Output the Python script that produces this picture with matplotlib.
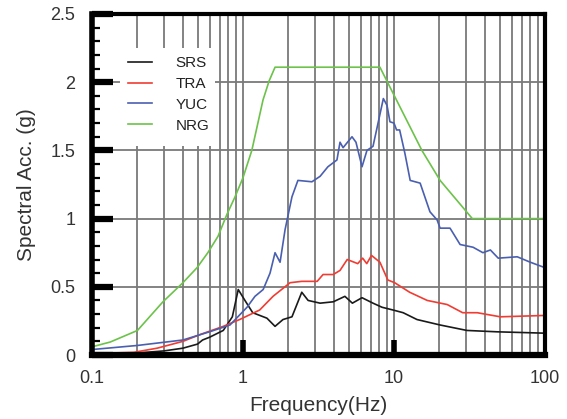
import matplotlib
matplotlib.use("Agg")
import matplotlib.pyplot as plt
from matplotlib.patches import Rectangle
from matplotlib.ticker import FixedLocator, NullFormatter
import numpy as np

plt.rcParams['font.family'] = ['Liberation Sans', 'DejaVu Sans']

# ---- data ----
srs_f = [0.1, 0.2, 0.3, 0.4, 0.5, 0.54, 0.6, 0.74, 0.85, 0.93, 1.03, 1.16, 1.44, 1.63, 1.84,
         2.11, 2.45, 2.7, 3.24, 3.96, 4.73, 5.3, 6.14, 7.26, 8.33, 9.84, 11.5, 14.2,
         20.2, 30.4, 48.1, 100]
srs_a = [0.01, 0.015, 0.03, 0.05, 0.08, 0.11, 0.13, 0.18, 0.28, 0.48, 0.40, 0.31, 0.27, 0.21, 0.26,
         0.28, 0.46, 0.40, 0.38, 0.39, 0.43, 0.38, 0.42, 0.38, 0.35, 0.33, 0.31, 0.26,
         0.22, 0.18, 0.17, 0.16]

tra_f = [0.1, 0.19, 0.27, 0.40, 0.52, 0.74, 0.95, 1.29, 1.58, 2.05, 2.45, 3.1, 3.39, 3.96, 4.39,
         4.9, 5.75, 6.2, 6.6, 7.1, 8.07, 9.1, 10.1, 12.7, 16.6, 22.5, 28.5, 35.6, 50.6, 100]
tra_a = [0.01, 0.02, 0.05, 0.10, 0.15, 0.21, 0.26, 0.33, 0.43, 0.53, 0.54, 0.54, 0.59, 0.59, 0.62,
         0.70, 0.67, 0.71, 0.67, 0.73, 0.68, 0.55, 0.53, 0.46, 0.40, 0.37, 0.31, 0.31, 0.28, 0.29]

yuc_f = [0.1, 0.2, 0.4, 0.6, 0.82, 1.063, 1.2, 1.36, 1.51, 1.63, 1.76, 1.9, 2.11, 2.31, 2.86,
         3.24, 3.65, 4.19, 4.39, 4.6, 5.27, 5.6, 6.14, 6.62, 7.26, 7.84, 8.5, 8.99, 9.4, 10.0,
         10.4, 10.9, 11.8, 12.8, 14.9, 17.3, 19.3, 20.2, 23.5, 27.4, 33.4, 38.8, 43.5, 49,
         65.5, 80, 100]
yuc_a = [0.04, 0.07, 0.11, 0.17, 0.22, 0.35, 0.43, 0.48, 0.60, 0.75, 0.68, 0.92, 1.16, 1.28, 1.27,
         1.31, 1.38, 1.43, 1.56, 1.52, 1.60, 1.56, 1.38, 1.50, 1.53, 1.70, 1.88, 1.83, 1.71, 1.70,
         1.65, 1.65, 1.48, 1.28, 1.26, 1.05, 0.99, 0.93, 0.93, 0.81, 0.79, 0.75, 0.77, 0.71,
         0.72, 0.68, 0.64]

nrg_f = [0.1, 0.132, 0.2, 0.295, 0.4, 0.496, 0.585, 0.683, 0.782, 0.886, 1.0, 1.144, 1.357,
         1.49, 1.63, 8.07, 15.3, 20.2, 33.0, 100]
nrg_a = [0.06, 0.095, 0.18, 0.39, 0.53, 0.64, 0.75, 0.87, 1.03, 1.16, 1.30, 1.50, 1.87,
         2.01, 2.11, 2.11, 1.50, 1.28, 1.00, 1.00]

names = ['SRS', 'TRA', 'YUC', 'NRG']
colors = ['#1a1a1a', '#f03c32', '#4a5fb0', '#6cc24a']

y_ticks = [0, 0.5, 1, 1.5, 2, 2.5]
y_tick_labels = ['0', '0.5', '1', '1.5', '2', '2.5']
x_ticks = [0.1, 1, 10, 100]
x_tick_labels = ['0.1', '1', '10', '100']

fig = plt.figure(figsize=(5.67, 4.19), dpi=100)
ax = fig.add_axes([92/567, 1-355/419, (545-92)/567, (355-14)/419])

series = [(srs_f, srs_a), (tra_f, tra_a), (yuc_f, yuc_a), (nrg_f, nrg_a)]
for (f, a), n, c in zip(series, names, colors):
    ax.plot(f, a, color=c, lw=1.2, label=n, zorder=3)

ax.set_xscale('log')
ax.set_xlim(0.1, 100)
ax.set_ylim(0, 2.5)

# grid: vertical at every log minor/major, horizontal at 0.5 .. 2
gcol = '#7a7a7a'
for dec in [0.1, 1, 10]:
    for k in range(1, 10):
        xv = dec * k
        if 0.1 < xv < 100:
            ax.axvline(xv, color=gcol, lw=1.3, zorder=1)
for yv in [0.5, 1, 1.5, 2]:
    ax.axhline(yv, color=gcol, lw=1.3, zorder=1)

# legend background box covering grid
ax.add_patch(Rectangle(((120-92)/453, (355-146)/341), (215-120)/453, (146-48)/341,
                       transform=ax.transAxes, facecolor='white', edgecolor='none', zorder=2))

# ticks
ax.xaxis.set_major_locator(FixedLocator(x_ticks))
ax.xaxis.set_minor_locator(FixedLocator([]))
ax.set_xticklabels(x_tick_labels)
ax.yaxis.set_major_locator(FixedLocator(y_ticks))
ax.yaxis.set_minor_locator(FixedLocator(list(np.arange(0.1, 2.5, 0.1))))
ax.yaxis.set_minor_formatter(NullFormatter())
ax.set_yticklabels(y_tick_labels)

ax.tick_params(axis='y', which='major', direction='in', length=15, width=4.5,
               labelsize=13, pad=12, labelcolor='#333333', color='black')
ax.tick_params(axis='y', which='minor', direction='in', length=6, width=1.6, color='black')
ax.tick_params(axis='x', which='major', direction='in', length=11, width=4, bottom=True, top=False,
               labelsize=13, pad=11, labelcolor='#333333', color='black')
ax.tick_params(axis='x', which='minor', bottom=False, top=False)

fig.canvas.draw()
xt = ax.xaxis.get_major_ticks()
for i in (0, len(xt) - 1):
    xt[i].tick1line.set_visible(False)

for side, lw in [('left', 4), ('bottom', 4.5), ('top', 3), ('right', 3)]:
    ax.spines[side].set_linewidth(lw)
    ax.spines[side].set_color('black')
    ax.spines[side].set_zorder(5)

ax.set_xlabel('Frequency(Hz)', fontsize=15, color='#333333', labelpad=6)
ax.set_ylabel('Spectral Acc. (g)', fontsize=15, color='#333333', labelpad=10)

leg = ax.legend(loc='upper left', bbox_to_anchor=((128-92)/453, (355-56)/341), frameon=False,
                fontsize=11, handlelength=1.6, handletextpad=1.5, labelspacing=0.45,
                borderpad=0, borderaxespad=0)
for t in leg.get_texts():
    t.set_color('#222222')
leg.set_zorder(6)

fig.savefig('out.png', dpi=100)
